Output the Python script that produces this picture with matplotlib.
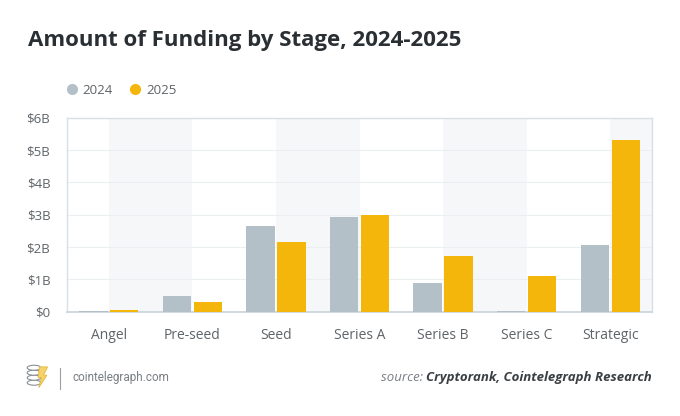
import matplotlib.pyplot as plt
from matplotlib.patches import Ellipse, Polygon
from matplotlib.lines import Line2D

# Funding by stage, billions of USD
stages = ["Angel", "Pre-seed", "Seed", "Series A", "Series B", "Series C", "Strategic"]
funding_2024 = [0.03, 0.50, 2.64, 2.93, 0.90, 0.03, 2.05]
funding_2025 = [0.04, 0.30, 2.15, 3.00, 1.72, 1.10, 5.30]
y_ticks = [0, 1, 2, 3, 4, 5, 6]
y_labels = ["$0", "$1B", "$2B", "$3B", "$4B", "$5B", "$6B"]

GREY = "#b4c0c7"
GOLD = "#f5b60b"
TEXT = "#5f6468"

plt.rcParams["font.family"] = ["Open Sans", "DejaVu Sans"]

fig = plt.figure(figsize=(6.8, 4.16), dpi=100)
ax = fig.add_axes([0.0985, 0.2507, 0.8605, 0.4663])

x = list(range(len(stages)))
w = 0.34
off = 0.185

# alternating light bands (offset by half a category, as in the original)
for i in range(0, len(stages), 2):
    ax.axvspan(i, min(i + 1, len(stages) - 0.5), color="#f5f7f9", zorder=0, lw=0)

ax.bar([i - off for i in x], funding_2024, width=w, color=GREY, zorder=3)
ax.bar([i + off for i in x], funding_2025, width=w, color=GOLD, zorder=3)

ax.set_xlim(-0.5, len(stages) - 0.5)
ax.set_ylim(0, 6)
ax.set_yticks(y_ticks)
ax.set_yticklabels(y_labels)
ax.set_xticks(x)
ax.set_xticklabels(stages)
ax.tick_params(axis="both", length=0, colors=TEXT, labelsize=9.5)
ax.tick_params(axis="x", pad=12, labelsize=10)
ax.tick_params(axis="y", pad=12)
ax.yaxis.grid(True, color="#eceff2", lw=0.8, zorder=1)
ax.set_axisbelow(True)
for s in ax.spines.values():
    s.set_color("#d8dfe5")
    s.set_linewidth(1)
ax.spines["bottom"].set_color("#cdd6dc")
ax.spines["bottom"].set_linewidth(1.3)

# title
fig.text(0.041, 0.902, "Amount of Funding by Stage, 2024-2025", fontsize=16,
         fontweight="bold", color="#2a2f33", va="center")

# legend
handles = [Line2D([], [], marker="o", ls="", color=GREY, markersize=7),
           Line2D([], [], marker="o", ls="", color=GOLD, markersize=7)]
fig.legend(handles, ["2024", "2025"], loc="center left", bbox_to_anchor=(0.079, 0.783),
           ncol=2, frameon=False, fontsize=9.5, handletextpad=0.3, columnspacing=1.2,
           labelcolor=TEXT, handlelength=1)

# footer logo: stacked coins and a bolt
for k in range(4):
    fig.patches.append(Ellipse((0.050, 0.080 + k * 0.012), 0.02, 0.012,
                               transform=fig.transFigure, fc="white", ec="#8a9096", lw=0.8))
fig.patches.append(Polygon([(0.058, 0.118), (0.070, 0.118), (0.064, 0.098), (0.069, 0.098),
                            (0.057, 0.068), (0.061, 0.092), (0.056, 0.092)],
                           closed=True, transform=fig.transFigure, fc="#f5d36a", ec="#e5b93a", lw=0.6))
fig.lines.append(Line2D([0.088, 0.088], [0.065, 0.115], transform=fig.transFigure,
                        color="#9aa0a5", lw=0.8))
fig.text(0.106, 0.092, "cointelegraph.com", fontsize=8.5, color="#7a7f84",
         family=["Roboto", "DejaVu Sans"], va="center")

# source line, right aligned; "source:" sits just left of the bold part
src = fig.text(0.959, 0.092, "Cryptorank, Cointelegraph Research", fontsize=9.5, style="italic",
               fontweight="bold", color="#3a3f44", ha="right", va="center")
ax.annotate("source: ", xy=(0, 0.5), xycoords=src, fontsize=9.5, style="italic",
            color="#7a7f84", ha="right", va="center", annotation_clip=False)

fig.savefig("out.png", dpi=100, facecolor="white")
